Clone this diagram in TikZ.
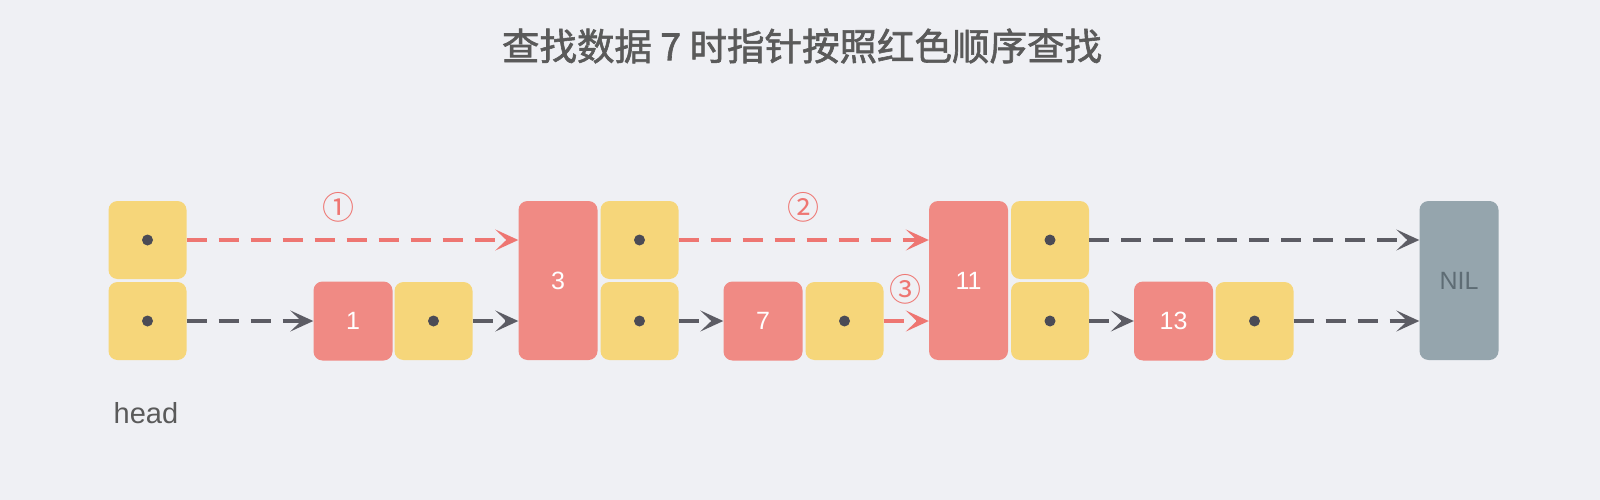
\documentclass[tikz,border=0pt]{standalone}
\usepackage{fontspec}
\setmainfont{Liberation Sans}
\newfontfamily\cjk{Noto Sans CJK SC}
\newfontfamily\cjktitle[FakeBold=1.6]{Noto Sans CJK SC}
\usetikzlibrary{arrows.meta}
\definecolor{bgc}{HTML}{EFF0F4}
\definecolor{yel}{HTML}{F6D67A}
\definecolor{redbox}{HTML}{F08A84}
\definecolor{nilc}{HTML}{95A5AD}
\definecolor{nilt}{HTML}{5E6C74}
\definecolor{dotc}{HTML}{4B4B55}
\definecolor{grayarr}{HTML}{5C5C64}
\definecolor{redarr}{HTML}{EE7672}
\definecolor{titlec}{HTML}{5A5A5A}
\tikzset{
  ybox/.style={fill=yel, rounded corners=9pt, minimum width=78pt, minimum height=78pt, inner sep=0pt},
  rbox/.style={fill=redbox, rounded corners=9pt, minimum width=79pt, minimum height=79pt, inner sep=0pt, text=white, font=\fontsize{25}{25}\selectfont},
  tallr/.style={rbox, minimum height=159pt},
  nilbox/.style={fill=nilc, rounded corners=9pt, minimum width=79pt, minimum height=159pt, inner sep=0pt, text=nilt, font=\fontsize{25}{25}\selectfont},
  ptrdot/.style={circle, fill=dotc, minimum size=11pt, inner sep=0pt},
  link/.style={line width=4pt, dash pattern=on 20pt off 12pt, -{Stealth[length=23pt, width=21pt, inset=11pt]}},
  glink/.style={link, draw=grayarr, color=grayarr},
  rlink/.style={link, draw=redarr, color=redarr},
  stepnum/.style={text=redarr, font=\cjk\fontsize{32}{32}\selectfont},
}
\begin{document}
\begin{tikzpicture}[x=1pt, y=-1pt]
\fill[bgc] (0,0) rectangle (1600,500);
\useasboundingbox (0,0) rectangle (1600,500);
\node[text=titlec, font=\cjktitle\fontsize{37.5}{37.5}\selectfont] (title) at (802,46) {查找数据 7 时指针按照红色顺序查找};
% head
\node[ybox] (ht) at (147.5,240) {};
\node[ybox] (hb) at (147.5,321) {};
\node[text=titlec, font=\fontsize{29}{29}\selectfont] (headlbl) at (146,413) {head};
% 1
\node[rbox] (r1) at (353,321) {1};
\node[ybox] (y1) at (433.5,321) {};
% 3
\node[tallr] (r3) at (558,280.5) {3};
\node[ybox] (y3t) at (639.5,240) {};
\node[ybox] (y3b) at (639.5,321) {};
% 7
\node[rbox] (r7) at (763,321) {7};
\node[ybox] (y7) at (844.5,321) {};
% 11
\node[tallr] (r11) at (968.5,280.5) {11};
\node[ybox] (y11t) at (1050,240) {};
\node[ybox] (y11b) at (1050,321) {};
% 13
\node[rbox] (r13) at (1173.5,321) {13};
\node[ybox] (y13) at (1254.5,321) {};
% NIL
\node[nilbox] (nil) at (1459,280.5) {NIL};
% dots
\foreach \n in {ht,hb,y1,y3t,y3b,y7,y11t,y11b,y13}{\node[ptrdot] (d\n) at (\n.center) {};}
% links
\draw[rlink] (ht.east) -- (ht.east -| r3.west);
\draw[rlink] (y3t.east) -- (y3t.east -| r11.west);
\draw[glink] (y11t.east) -- (y11t.east -| nil.west);
\draw[glink] (hb.east) -- (r1.west);
\draw[glink] (y1.east) -- (y1.east -| r3.west);
\draw[glink] (y3b.east) -- (r7.west);
\draw[rlink] (y7.east) -- (y7.east -| r11.west);
\draw[glink] (y11b.east) -- (r13.west);
\draw[glink] (y13.east) -- (y13.east -| nil.west);
% step labels
\node[stepnum] (s1) at (338,207) {①};
\node[stepnum] (s2) at (803,207) {②};
\node[stepnum] (s3) at (905,289) {③};
\end{tikzpicture}
\end{document}
